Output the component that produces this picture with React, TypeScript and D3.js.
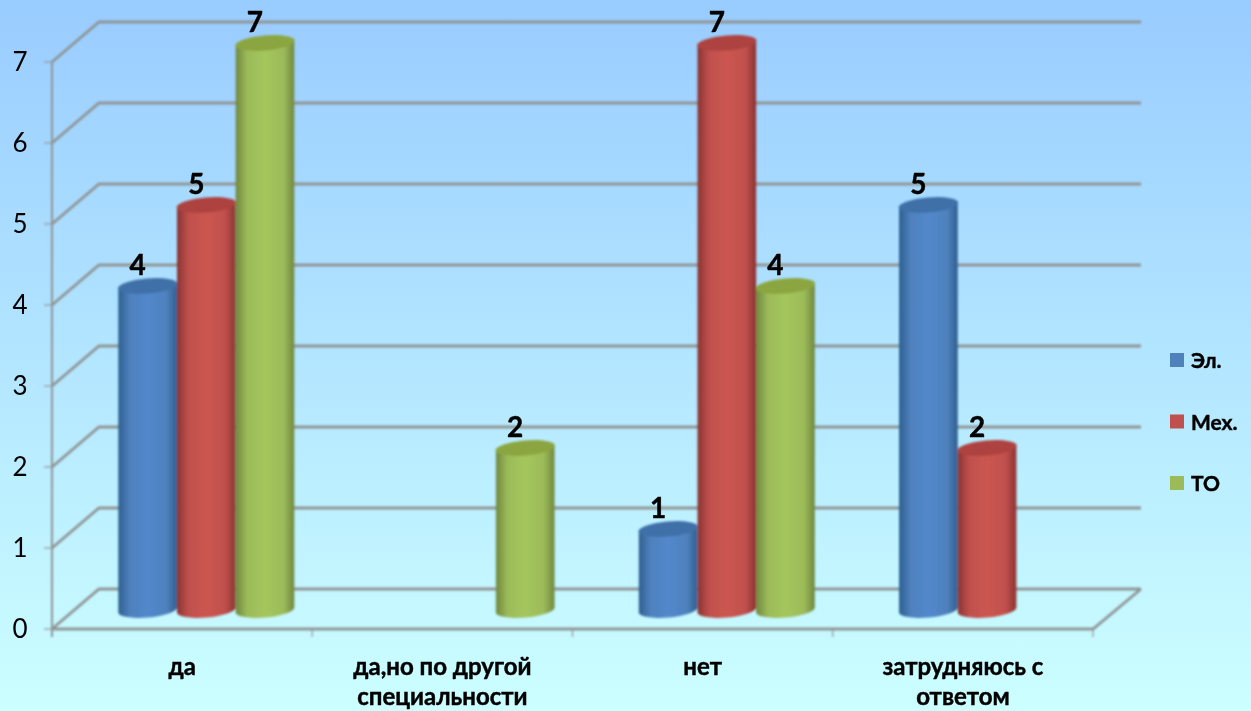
import React from "react";
import * as d3 from "d3";

const categories = ["да", "да,но по другой специальности", "нет", "затрудняюсь с ответом"];
const categoryLines = [["да"], ["да,но по другой", "специальности"], ["нет"], ["затрудняюсь с", "ответом"]];
const seriesNames = ["Эл.", "Мех.", "ТО"];
const valuesEl = [4, 0, 1, 5];
const valuesMeh = [5, 0, 7, 2];
const valuesTo = [7, 2, 4, 0];
const seriesValues = [valuesEl, valuesMeh, valuesTo];
const yTicks = [0, 1, 2, 3, 4, 5, 6, 7];
const colors = [
  { base: "#4f81bd", light: "#5288cc", dark: "#2f5f90", top: "#3f70a8" },
  { base: "#c0504d", light: "#cc5650", dark: "#8a3432", top: "#ad4340" },
  { base: "#9bbb59", light: "#a4c65c", dark: "#71873f", top: "#8ba63f" },
];

const W = 1251, H = 711;
const DX = 47, DY = 40;
const FONT = "Lato, 'Open Sans', 'Noto Sans', sans-serif";

export default function App() {
  const y = d3.scaleLinear().domain([0, 7]).range([629, 62]);
  const x = d3.scaleBand<string>().domain(categories).range([52, 1093]);
  const inner = d3.scaleBand<string>().domain(seriesNames).range([0, 176]);
  const groupOffset = 66.3;
  const barW = inner.bandwidth();
  const ry = 7.5;
  const barDy = 19;
  const tilt = 2.5;
  const heavy = { stroke: "#000", strokeWidth: 0.45 };

  const cyl = (bx: number, topY: number, baseY: number) =>
    `M${bx},${topY + tilt} L${bx},${baseY + tilt} A${barW / 2},${ry} -5 0 0 ${bx + barW},${baseY - tilt} L${bx + barW},${topY - tilt} Z`;

  return (
    <svg width={W} height={H} style={{ position: "absolute", left: 0, top: 0, fontFamily: FONT }}>
      <defs>
        <linearGradient id="bg" x1="0" y1="0" x2="0" y2="1">
          <stop offset="0" stopColor="#99ccff" />
          <stop offset="1" stopColor="#ccffff" />
        </linearGradient>
        {colors.map((c, i) => (
          <linearGradient key={i} id={`g${i}`} x1="0" y1="0" x2="1" y2="0">
            <stop offset="0" stopColor={c.dark} />
            <stop offset="0.2" stopColor={c.base} />
            <stop offset="0.5" stopColor={c.light} />
            <stop offset="0.82" stopColor={c.base} />
            <stop offset="1" stopColor={c.dark} />
          </linearGradient>
        ))}
        <filter id="soft" x="-5%" y="-5%" width="110%" height="110%">
          <feGaussianBlur stdDeviation="0.8" />
        </filter>
        <filter id="softText" x="-5%" y="-5%" width="110%" height="110%">
          <feGaussianBlur stdDeviation="0.35" />
        </filter>
      </defs>
      <rect width={W} height={H} fill="url(#bg)" />

      <g filter="url(#soft)" fill="none" stroke="#8f9494">
        {yTicks.map((t) => (
          <g key={t}>
            <path d={`M${x.range()[0]},${y(t)} L${x.range()[0] + DX},${y(t) - DY} L${x.range()[1] + DX + 1},${y(t) - DY}`} strokeWidth={2.8} />
            <line x1={44} x2={52} y1={y(t)} y2={y(t)} strokeWidth={1.2} />
          </g>
        ))}
        <line x1={52} x2={52} y1={y(7)} y2={y(0) + 8} strokeWidth={2} />
        <path d={`M52,${y(0)} L1093,${y(0)} L${1093 + DX + 1},${y(0) - DY}`} strokeWidth={2.8} />
        {[...categories.map((c) => x(c)!), 1093].map((tx) => (
          <line key={tx} x1={tx} x2={tx} y1={y(0)} y2={y(0) + 8} strokeWidth={1.2} />
        ))}
      </g>

      <g filter="url(#soft)">
        {categories.map((cat, ci) =>
          seriesNames.map((s, si) => {
            const v = seriesValues[si][ci];
            if (!v) return null;
            const bx = x(cat)! + groupOffset + inner(s)!;
            const topY = y(v) - barDy;
            const baseY = y(0) - barDy;
            return (
              <g key={s}>
                <path d={cyl(bx, topY, baseY)} fill={`url(#g${si})`} />
                <ellipse
                  cx={bx + barW / 2}
                  cy={topY}
                  rx={barW / 2 + 0.5}
                  ry={ry}
                  fill={colors[si].top}
                  transform={`rotate(-5 ${bx + barW / 2} ${topY})`}
                />
              </g>
            );
          })
        )}
      </g>

      <g filter="url(#softText)">
        {categories.map((cat, ci) =>
          seriesNames.map((s, si) => {
            const v = seriesValues[si][ci];
            if (!v) return null;
            const bx = x(cat)! + groupOffset + inner(s)!;
            return (
              <text key={s} x={bx + barW / 2 - 10} y={y(v) - barDy - 11} textAnchor="middle" fontSize={28} fontWeight={700} fill="#000" {...heavy}>
                {v}
              </text>
            );
          })
        )}

        {yTicks.map((t) => (
          <text key={t} x={20} y={y(t) + 9} textAnchor="middle" fontSize={26} fill="#000">
            {t}
          </text>
        ))}

        {categories.map((cat, ci) =>
          categoryLines[ci].map((line, li) => (
            <text key={li} x={x(cat)! + x.bandwidth() / 2} y={675 + li * 30} textAnchor="middle" fontSize={24} fontWeight={700} fill="#000" {...heavy}>
              {line}
            </text>
          ))
        )}

        {seriesNames.map((s) => {
          const ly = d3.scalePoint<string>().domain(seriesNames).range([353, 476])(s)!;
          return (
            <text key={s} x={1191} y={ly + 15} fontSize={21} fontWeight={700} fill="#000" {...heavy}>
              {s}
            </text>
          );
        })}
      </g>

      {seriesNames.map((s, i) => {
        const ly = d3.scalePoint<string>().domain(seriesNames).range([353, 476])(s)!;
        return <rect key={s} x={1170} y={ly} width={14} height={14} fill={colors[i].base} />;
      })}
    </svg>
  );
}
